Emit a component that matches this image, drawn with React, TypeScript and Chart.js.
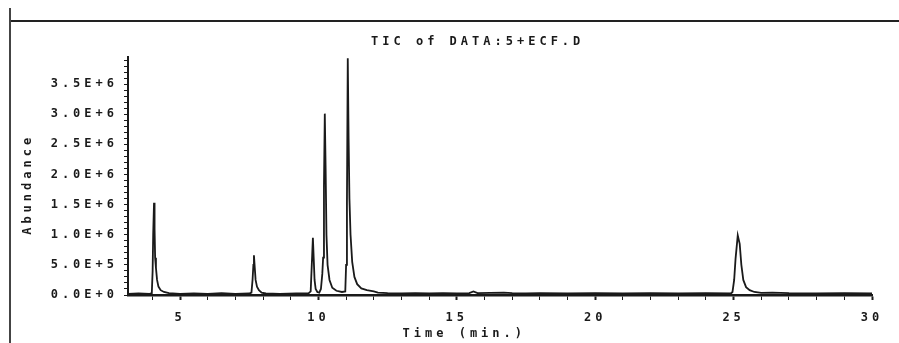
import React, { useEffect, useRef } from "react";
import { Chart, registerables } from "chart.js";

Chart.register(...registerables);

// Retention times (min.)
const times: number[] = [
  3.12, 3.5, 3.9, 3.98, 4.01, 4.03, 4.06, 4.08, 4.1, 4.13, 4.17, 4.22, 4.3, 4.42, 4.6,
  5.0, 5.5, 6.0, 6.5, 7.0, 7.5, 7.58, 7.62, 7.65, 7.67, 7.7, 7.73, 7.78, 7.85, 7.95,
  8.1, 8.6, 9.2, 9.65, 9.72, 9.76, 9.8, 9.83, 9.86, 9.9, 9.96, 10.03, 10.09, 10.14,
  10.17, 10.2, 10.23, 10.26, 10.29, 10.33, 10.4, 10.5, 10.65, 10.85, 10.97, 11.0,
  11.03, 11.06, 11.09, 11.12, 11.16, 11.22, 11.3, 11.4, 11.55, 11.75, 11.9, 12.0,
  12.15, 12.5, 13.0, 13.5, 14.0, 14.5, 15.0, 15.45, 15.6, 15.75, 16.2, 16.7, 17.0,
  17.5, 18.0, 19.0, 20.0, 21.0, 22.0, 23.0, 24.0, 24.9, 24.96, 25.02, 25.07, 25.15,
  25.22, 25.28, 25.35, 25.45, 25.58, 25.75, 26.0, 26.4, 27.0, 28.0, 29.0, 30.0,
];

// Abundance (millions)
const abundanceM: number[] = [
  0.02, 0.025, 0.02, 0.03, 0.4, 1.0, 1.53, 1.1, 0.62, 0.45, 0.25, 0.14, 0.08, 0.05, 0.03,
  0.02, 0.025, 0.02, 0.03, 0.02, 0.025, 0.04, 0.25, 0.5, 0.66, 0.45, 0.25, 0.14, 0.08, 0.04,
  0.025, 0.02, 0.025, 0.03, 0.06, 0.5, 0.95, 0.6, 0.25, 0.1, 0.05, 0.04, 0.1, 0.35,
  0.62, 1.8, 3.01, 2.1, 1.0, 0.5, 0.25, 0.12, 0.07, 0.05, 0.06, 0.5,
  1.5, 3.93, 2.6, 1.6, 1.0, 0.55, 0.3, 0.18, 0.11, 0.08, 0.07, 0.06,
  0.04, 0.03, 0.025, 0.03, 0.025, 0.03, 0.025, 0.03, 0.06, 0.03, 0.035, 0.04, 0.03,
  0.025, 0.03, 0.025, 0.03, 0.025, 0.03, 0.025, 0.03, 0.025, 0.05, 0.25, 0.6, 0.99,
  0.85, 0.5, 0.25, 0.13, 0.08, 0.05, 0.035, 0.04, 0.03, 0.025, 0.03, 0.025,
];

const xTickLabels: number[] = [5, 10, 15, 20, 25, 30];
const yTickValues: number[] = [0, 0.5e6, 1.0e6, 1.5e6, 2.0e6, 2.5e6, 3.0e6, 3.5e6];
const yTickLabels: string[] = ["0.0E+0", "5.0E+5", "1.0E+6", "1.5E+6", "2.0E+6", "2.5E+6", "3.0E+6", "3.5E+6"];
const yMinorStep = 1e5;
const xMinorStep = 1;

const chartTitle = "TIC of DATA:5+ECF.D";
const xTitle = "Time (min.)";
const yTitle = "Abundance";

const FONT_FAMILY = "'DejaVu Sans Mono', monospace";
const INK = "#1a1a1a";
const SPACING = "4px";

export default function App() {
  const ref = useRef<HTMLCanvasElement | null>(null);

  useEffect(() => {
    document.body.style.margin = "0";
    const canvas = ref.current;
    if (!canvas) return;

    const spacingPlugin = {
      id: "spacing",
      beforeLayout(chart: any) {
        (chart.ctx as any).letterSpacing = SPACING;
      },
      beforeDraw(chart: any) {
        (chart.ctx as any).letterSpacing = SPACING;
      },
    };

    const textPlugin = {
      id: "texts",
      afterDraw(chart: any) {
        const { ctx, chartArea } = chart;
        const w = chartArea.right - chartArea.left;
        const h = chartArea.bottom - chartArea.top;
        ctx.save();
        (ctx as any).letterSpacing = SPACING;
        ctx.fillStyle = INK;
        ctx.font = `bold 12px ${FONT_FAMILY}`;
        ctx.textAlign = "center";
        ctx.textBaseline = "middle";
        ctx.fillText(chartTitle, chartArea.left + 0.47 * w, chartArea.top - 15);
        ctx.fillText(xTitle, chartArea.left + 0.452 * w, chartArea.bottom + 39);
        ctx.translate(28, chartArea.top + 0.535 * h);
        ctx.rotate(-Math.PI / 2);
        ctx.fillText(yTitle, 0, 0);
        ctx.restore();
      },
    };

    const tickFont = { family: FONT_FAMILY, size: 12, weight: "bold" as const };

    const chart = new Chart(canvas, {
      type: "line",
      data: {
        datasets: [
          {
            data: times.map((t, i) => ({ x: t, y: abundanceM[i] * 1e6 })),
            borderColor: INK,
            borderWidth: 1.8,
            pointRadius: 0,
            tension: 0,
            fill: false,
          },
        ],
      },
      options: {
        animation: false,
        responsive: false,
        maintainAspectRatio: false,
        devicePixelRatio: 1,
        layout: { padding: { top: 57, right: 27, left: 0, bottom: 0 } },
        plugins: {
          legend: { display: false },
          title: { display: false },
          tooltip: { enabled: false },
        },
        scales: {
          x: {
            type: "linear",
            min: 3.12,
            max: 30,
            afterBuildTicks(scale: any) {
              const ticks: { value: number }[] = [];
              for (let v = Math.ceil(scale.min); v <= scale.max; v += xMinorStep) ticks.push({ value: v });
              scale.ticks = ticks;
            },
            afterFit(scale: any) {
              scale.height = 48;
            },
            border: { color: INK, width: 2.5 },
            grid: {
              drawOnChartArea: false,
              tickLength: 5,
              color: INK,
              tickWidth: (c: any) => (c.tick && xTickLabels.includes(c.tick.value) ? 2 : 1),
            },
            ticks: {
              autoSkip: false,
              maxRotation: 0,
              padding: 11,
              color: INK,
              font: tickFont,
              callback: (v: any) => (xTickLabels.includes(Math.round(Number(v))) ? String(Math.round(Number(v))) : ""),
            },
          },
          y: {
            type: "linear",
            min: 0,
            max: 3.95e6,
            afterBuildTicks(scale: any) {
              const ticks: { value: number }[] = [];
              const n = Math.floor(scale.max / yMinorStep);
              for (let k = 0; k <= n; k++) ticks.push({ value: k * yMinorStep });
              scale.ticks = ticks;
            },
            afterFit(scale: any) {
              scale.width = 128;
            },
            border: { color: INK, width: 2 },
            grid: { drawOnChartArea: false, tickLength: 4, color: INK, tickWidth: 1 },
            ticks: {
              autoSkip: false,
              padding: 6,
              color: INK,
              font: tickFont,
              callback: (v: any) => {
                const idx = yTickValues.findIndex((t) => Math.abs(t - Number(v)) < 1);
                return idx >= 0 ? yTickLabels[idx] : "";
              },
            },
          },
        },
      },
      plugins: [spacingPlugin, textPlugin],
    });

    return () => chart.destroy();
  }, []);

  return (
    <div style={{ position: "relative", width: 899, height: 343, background: "#fff", overflow: "hidden" }}>
      <canvas ref={ref} width={899} height={343} style={{ display: "block" }} />
      <div style={{ position: "absolute", left: 10, top: 20, width: 889, height: 0, borderTop: "2px solid #222" }} />
      <div style={{ position: "absolute", left: 9, top: 8, width: 0, height: 335, borderLeft: "2px solid #444" }} />
    </div>
  );
}
